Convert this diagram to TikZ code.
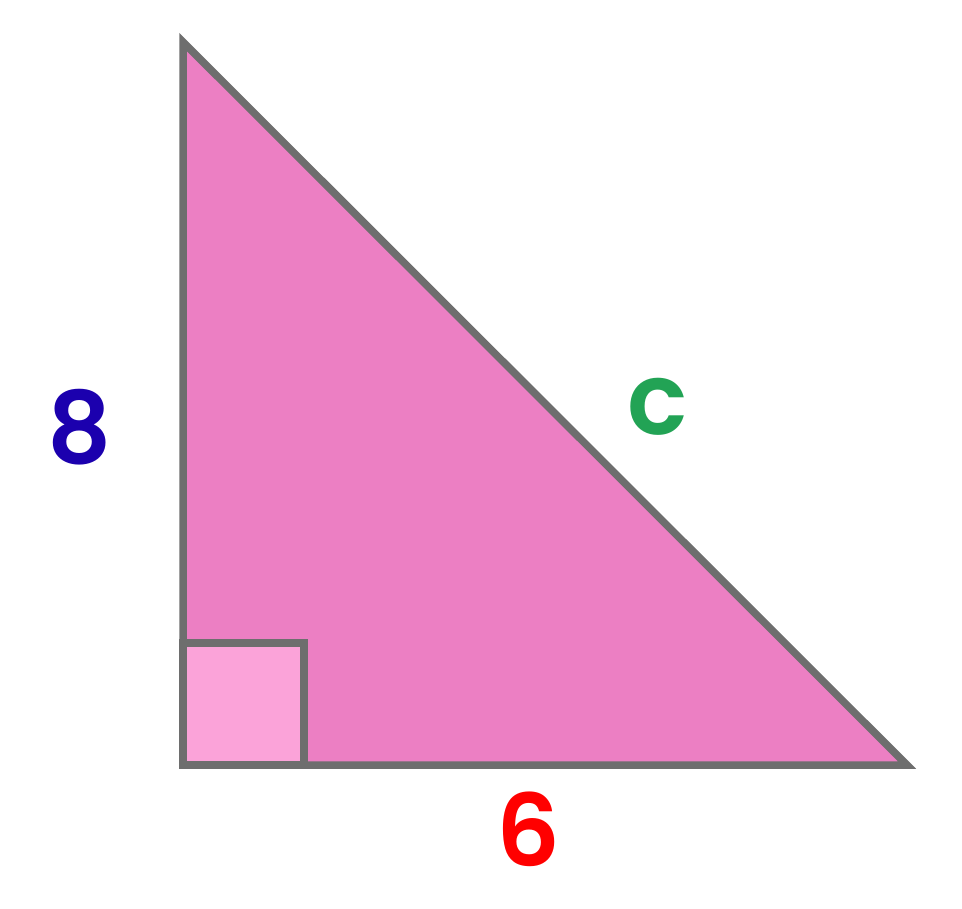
\documentclass[tikz,border=0pt]{standalone}
\usepackage{fontspec}
\setmainfont{Poppins}[BoldFont={Poppins SemiBold}]
\definecolor{trifill}{HTML}{EC7FC3}
\definecolor{sqfill}{HTML}{FBA3D9}
\definecolor{edge}{HTML}{6E6E6E}
\definecolor{lblue}{HTML}{1B00AE}
\definecolor{lgreen}{HTML}{22A355}
\definecolor{lred}{HTML}{FF0000}
\begin{document}
\begin{tikzpicture}[x=1pt,y=-1pt,
  edgeline/.style={draw=edge,line width=7.5pt,line join=miter},
  lbl/.style={font=\fontsize{100}{108}\selectfont\bfseries,inner sep=0pt,anchor=center}]
\useasboundingbox (0,0) rectangle (962,909);
\coordinate (A) at (183,42);
\coordinate (B) at (183,765);
\coordinate (C) at (907,765);
\filldraw[edgeline,fill=trifill] (A) -- (B) -- (C) -- cycle;
\filldraw[edgeline,fill=sqfill] (183,765) rectangle (304,643);
\node[lbl,text=lblue] (eight) at (79.5,427) {8};
\node[lbl,text=lgreen] (cee) at (657.5,407) {c};
\node[lbl,text=lred] (six) at (528,829.5) {6};
\end{tikzpicture}
\end{document}
